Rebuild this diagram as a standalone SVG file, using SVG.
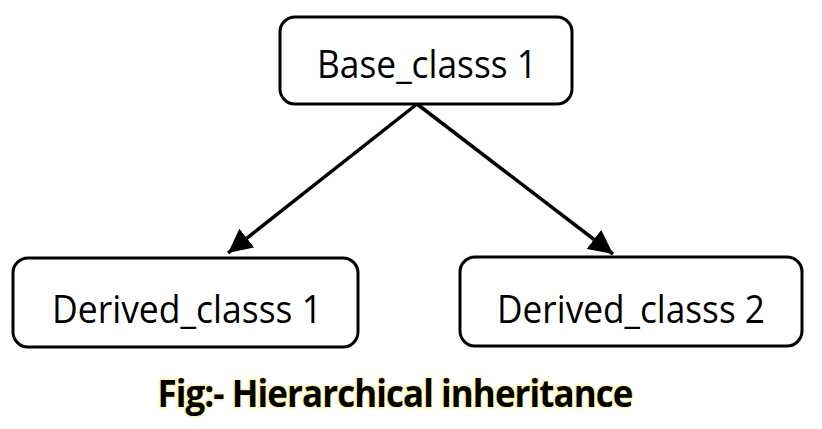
<svg xmlns="http://www.w3.org/2000/svg" width="822" height="429" viewBox="0 0 822 429">
<style>
.box{fill:#fff;stroke:#000;stroke-width:3}
.lbl{font-family:"Open Sans","Liberation Sans",sans-serif;font-size:38px;fill:#000;text-anchor:middle}
.cap{font-family:"Open Sans","Liberation Sans",sans-serif;font-size:38px;font-weight:bold;fill:#000;text-anchor:middle;letter-spacing:-1px}
.glow{stroke:#fff7a8;stroke-width:3;stroke-linejoin:round}
.conn{stroke:#000;stroke-width:3.5;fill:none}
</style>
<defs>
<marker id="arr" viewBox="0 0 10 10" refX="10" refY="5" markerWidth="24" markerHeight="24" markerUnits="userSpaceOnUse" orient="auto">
<path d="M0,0 L10,5 L0,10 z" fill="#000"/>
</marker>
</defs>
<g id="connectors">
<line class="conn" x1="417" y1="104" x2="228" y2="253" marker-end="url(#arr)"/>
<line class="conn" x1="417" y1="104" x2="613" y2="254" marker-end="url(#arr)"/>
</g>
<g id="base">
<rect class="box" x="280" y="17" width="292" height="87" rx="15"/>
<text class="lbl" x="427" y="78" textLength="220" lengthAdjust="spacingAndGlyphs">Base_classs 1</text>
</g>
<g id="derived1">
<rect class="box" x="13" y="258" width="345" height="89" rx="15"/>
<text class="lbl" x="187" y="323" textLength="270" lengthAdjust="spacingAndGlyphs">Derived_classs 1</text>
</g>
<g id="derived2">
<rect class="box" x="460" y="257" width="342" height="89" rx="15"/>
<text class="lbl" x="631" y="323" textLength="268" lengthAdjust="spacingAndGlyphs">Derived_classs 2</text>
</g>
<g id="caption">
<text class="cap glow" x="395" y="407" textLength="475" lengthAdjust="spacingAndGlyphs">Fig:- Hierarchical inheritance</text>
<text class="cap" x="395" y="407" textLength="475" lengthAdjust="spacingAndGlyphs">Fig:- Hierarchical inheritance</text>
</g>
</svg>
